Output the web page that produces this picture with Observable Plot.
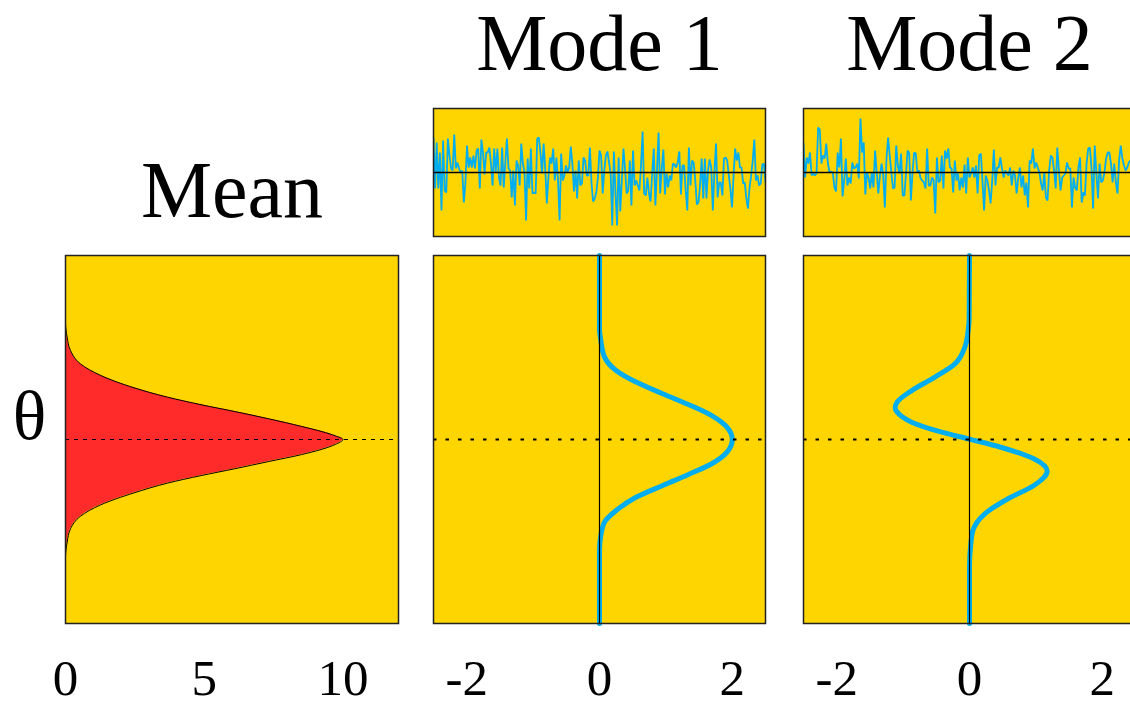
<!DOCTYPE html>
<html><head><meta charset="utf-8">
<script src="https://cdn.jsdelivr.net/npm/d3@7"></script>
<script src="https://cdn.jsdelivr.net/npm/@observablehq/plot@0.6"></script>
<style>
html,body{margin:0;padding:0;background:#fff;overflow:hidden;width:1130px;height:705px}
#wrap{position:relative;width:1130px;height:705px;overflow:hidden}
#wrap svg{position:absolute;overflow:visible;max-width:none}
</style></head><body><div id="wrap"></div>
<script>
// ---------- data ----------
const panelTitles = ["Mean", "Mode 1", "Mode 2"];
const yLabel = "θ";
const meanTicks = [0, 5, 10];
const modeTicks = [-2, 0, 2];

const meanTheta = [-1, -0.64, -0.558, -0.485, -0.417, -0.355, -0.290, -0.237, -0.196, -0.159, -0.120, -0.082, -0.027, 0, 0.020, 0.043, 0.071, 0.113, 0.152, 0.189, 0.230, 0.281, 0.348, 0.411, 0.484, 0.556, 0.637, 1];
const meanValue = [0, 0, 0.06, 0.18, 0.54, 1.27, 2.47, 3.68, 4.89, 6.10, 7.31, 8.51, 9.72, 10.0, 9.72, 9.24, 8.51, 7.31, 6.10, 4.89, 3.68, 2.47, 1.27, 0.54, 0.18, 0.06, 0, 0];

const mode1Theta = [-1, -0.60, -0.522, -0.449, -0.386, -0.314, -0.250, -0.190, -0.132, -0.069, 0, 0.067, 0.130, 0.190, 0.249, 0.312, 0.375, 0.449, 0.538, 0.60, 1];
const mode1Value = [0, 0, 0.02, 0.075, 0.25, 0.55, 0.95, 1.34, 1.69, 1.92, 2.0, 1.92, 1.69, 1.34, 0.95, 0.55, 0.25, 0.075, 0.02, 0, 0];

const mode2Theta = [-1, -0.694, -0.567, -0.495, -0.404, -0.322, -0.250, -0.172, -0.105, -0.042, 0.002, 0.040, 0.094, 0.149, 0.173, 0.203, 0.266, 0.339, 0.411, 0.502, 0.592, 0.66, 1];
const mode2Value = [0, 0, 0.02, 0.05, 0.23, 0.58, 0.97, 1.17, 0.97, 0.47, 0, -0.42, -0.87, -1.09, -1.12, -1.09, -0.87, -0.52, -0.22, -0.07, -0.02, -0.005, 0];

const mode1Noise = [3.5, -1.6, 3.0, -1.6, 2.0, -3.8, 3.2, -1.8, -2.0, 3.4, 1.7, 0.4, 0.2, 3.8, 0.4, 1.0, 0.4, 0.0, 0.2, -3.0, -1.0, 2.7, 0.5, 1.5, 0.5, 1.7, 0.4, 2.2, 2.4, -1.6, 3.3, 2.0, -0.2, 2.0, 2.0, 2.5, 0.9, -1.3, 2.4, 0.0, 2.4, -0.5, -1.3, 2.5, -1.5, 1.0, 3.4, 0.4, 0.2, -2.5, 0.2, -3.3, 1.2, 0.7, -1.3, 2.9, 0.9, 0.0, -4.8, 1.4, -1.6, 2.4, -2.1, -2.0, -2.1, 3.4, 3.5, 2.0, -0.1,
  2.9, 0.4, -3.1, -0.5, 1.5, 0.9, 2.4, -0.8, 1.5, -0.8, -4.8, 1.9, -0.8, -0.3, 0.7, 0.0, 0.5, 2.6, 0.9, -1.9, 0.2, -2.6, 1.2, -1.3, -1.1, 1.5, 1.2, -0.3, -0.3, 2.5, -1.1, -2.9, -2.6, -2.0, -0.5, 2.2, 1.7, -2.1, 0.2, 1.7, 2.1, 1.0, -0.1, -5.3, 2.1, -2.0, -5.3, 1.5, -3.9, -0.8, 2.4, 0.4, -2.1, -1.8, 1.2, -3.3, 2.2, -1.3, -0.8, -1.3, -1.8, 0.7, 4.1, -2.1, -2.3, -0.5, -2.1, -2.9, -0.1, 2.4, -3.3, 0.2, 4.0,
  -2.1, 0.4, 2.3, -2.2, -0.1, -1.5, -0.3, -0.8, 0.9, 0.8, 0.5, 1.0, 2.1, -2.2, 0.7, 0.7, -1.8, -3.8, 2.5, -1.3, 1.2, 1.0, -0.8, -3.2, -3.0, -1.3, 1.4, -2.6, 1.4, -2.6, 0.2, 1.3, 0.5, -3.8, 0.1, 2.9, -2.5, -1.0, -1.0, -2.3, 1.4, 1.5, 1.2, -0.3, -1.6, -3.5, -0.3, 2.4, 1.2, 2.0, 0.5, 0.5, -1.1, -1.0, -2.6, -3.6, -1.5, -0.3, 1.2, 3.3, -0.8, -0.3, -1.3, -1.1, 0.8, 0.9, -1.0];

const mode2Noise = [2.9, -0.5, 1.5, 0.9, 2.0, -0.3, -0.1, -0.3, -0.1, 4.5, 4.3, 0.9, 1.7, 1.4, 2.9, 0.9, 0.0, 0.1, 0.0, -1.5, -1.9, 2.0, 0.5, 3.4, -2.4, -0.8, 1.4, -1.3, -0.5, -1.1, 1.0, 0.4, 0.5, 0.9, -0.6, 5.4, 2.0, 3.0, -2.2, 0.0, -0.5, -1.6, 0.0, -1.5, 2.2, 0.0, -2.1, -0.3, 0.9, -0.3, -3.5, 1.4, 3.5, 1.7, 0.0, -1.6, -1.5, 2.7, 0.7, -0.1, 1.9, -2.3, -2.3, -0.1, 2.2, 1.9, -2.8, 0.0, 2.0,
  1.9, 0.0, 0.2, -0.6, -0.8, -1.0, -1.6, 2.4, -1.3, -1.3, -0.5, -0.8, -4.1, 1.5, -1.0, -0.8, 1.7, -1.6, 2.2, 1.4, 2.4, 0.5, 0.4, -2.0, 1.2, -0.8, -0.1, -1.8, -0.5, -1.5, 0.8, -2.1, 1.5, -0.5, -0.1, 0.5, -0.5, 0.7, -2.1, 1.7, 1.9, -0.8, -3.8, -0.3, -0.8, -1.8, -3.1, -0.8, 2.3, -1.3, 0.5, 0.5, 1.5, 0.4, -0.5, 0.2, -0.1, -0.3, 0.5, -1.3, 0.2, -0.3, -2.1, -0.6, 0.5, -1.5, -0.3, -2.3,
  -1.0, -3.5, 1.2, 0.9, 2.4, 0.4, 1.0, 0.5, 0.0, -1.1, -1.8, 0.0, -2.5, -2.8, 0.2, 1.7, 1.5, 0.2, -1.6, 2.5, 0.2, -1.8, -0.5, -0.3, -0.1, 1.0, 0.4, 0.4, -3.5, -0.5, -1.5, -1.8, 0.5, 1.5, -3.0, -2.0, -2.3, 0.9, 2.4, 2.5, 0.5, -3.6, 2.7, 0.0, -2.6, 0.9, -1.0, -0.8, 0.0, 1.4, 2.0, 2.0, 0.9, -1.0, 0.9, -1.0, -2.1, 1.2, 2.7, 1.4, 0.7, 0.2, 0.5, 1.0, 1.2];

// ---------- styling ----------
const FONT = "'Liberation Serif', 'Times New Roman', Times, serif";
const YELLOW = "#FFD500", RED = "#FF2A2A", BLUE = "#00AEEF";
const wrap = document.getElementById("wrap");
function place(svg, left, top) { svg.style.left = left + "px"; svg.style.top = top + "px"; wrap.appendChild(svg); }
const toRows = (th, val) => th.map((t, i) => ({theta: t, value: val[i]}));
const tickAxis = (ticks) => Plot.axisX({ticks, label: null, tickSize: 0, tickPadding: 35, fontSize: 51, fontFamily: FONT, fill: "#000", tickFormat: d => String(d)});

// ---------- Mean panel ----------
const meanData = toRows(meanTheta, meanValue);
place(Plot.plot({
  width: 420, height: 705,
  marginLeft: 65, marginRight: 22, marginTop: 255, marginBottom: 82,
  style: {fontFamily: FONT, background: "transparent", color: "#000"},
  x: {domain: [0, 12], axis: null, label: null},
  y: {domain: [-1, 1], axis: null, label: null},
  marks: [
    Plot.frame({fill: YELLOW}),
    Plot.areaX(meanData, {y: "theta", x1: 0, x2: "value", fill: RED, curve: "monotone-y"}),
    Plot.lineX(meanData, {y: "theta", x: "value", stroke: "#000", strokeWidth: 1, curve: "monotone-y"}),
    Plot.ruleY([0], {stroke: "#000", strokeWidth: 1, strokeDasharray: "4,5"}),
    Plot.frame({stroke: "#222", strokeWidth: 1.5}),
    tickAxis(meanTicks),
    Plot.text([panelTitles[0]], {text: d => d, frameAnchor: "top", lineAnchor: "top", dy: -95, fontSize: 80, fontFamily: FONT, fill: "#000"}),
    Plot.text([yLabel], {text: d => d, frameAnchor: "left", dx: -36, dy: -23, textAnchor: "middle", lineAnchor: "middle", fontSize: 70, fontFamily: FONT, fill: "#000"})
  ]
}), 0, 0);

// ---------- Mode panels ----------
function noisePlot(values, title, xMax) {
  const data = values.map((v, i) => ({t: i, v}));
  return Plot.plot({
    width: 360, height: 240,
    marginLeft: 13, marginRight: 15, marginTop: 108, marginBottom: 4,
    style: {fontFamily: FONT, background: "transparent", color: "#000"},
    x: {domain: [0, xMax], axis: null, label: null},
    y: {domain: [-6.4, 6.4], axis: null, label: null},
    marks: [
      Plot.frame({fill: YELLOW}),
      Plot.line(data, {x: "t", y: "v", stroke: BLUE, strokeWidth: 1.8, strokeLinejoin: "miter", clip: true}),
      Plot.ruleY([0], {stroke: "#000", strokeWidth: 1.5}),
      Plot.frame({stroke: "#222", strokeWidth: 1.5}),
      Plot.text([title], {text: d => d, frameAnchor: "top", lineAnchor: "top", dy: -95, fontSize: 80, fontFamily: FONT, fill: "#000"})
    ]
  });
}
function modePlot(data) {
  return Plot.plot({
    width: 360, height: 465,
    marginLeft: 13, marginRight: 15, marginTop: 15, marginBottom: 82,
    style: {fontFamily: FONT, background: "transparent", color: "#000"},
    x: {domain: [-2.5, 2.5], axis: null, label: null},
    y: {domain: [-1, 1], axis: null, label: null},
    marks: [
      Plot.frame({fill: YELLOW}),
      Plot.lineX(data, {x: "value", y: "theta", stroke: BLUE, strokeWidth: 5, curve: "monotone-y"}),
      Plot.ruleX([0], {stroke: "#000", strokeWidth: 1.2}),
      Plot.ruleY([0], {stroke: "#000", strokeWidth: 2, strokeDasharray: "3.5,9"}),
      Plot.frame({stroke: "#222", strokeWidth: 1.5}),
      tickAxis(modeTicks)
    ]
  });
}

place(noisePlot(mode1Noise, panelTitles[1], mode1Noise.length - 1), 420, 0);
place(modePlot(toRows(mode1Theta, mode1Value)), 420, 240);
place(noisePlot(mode2Noise, panelTitles[2], (mode2Noise.length - 1) * 332 / 327), 790, 0);
place(modePlot(toRows(mode2Theta, mode2Value)), 790, 240);
</script></body></html>
